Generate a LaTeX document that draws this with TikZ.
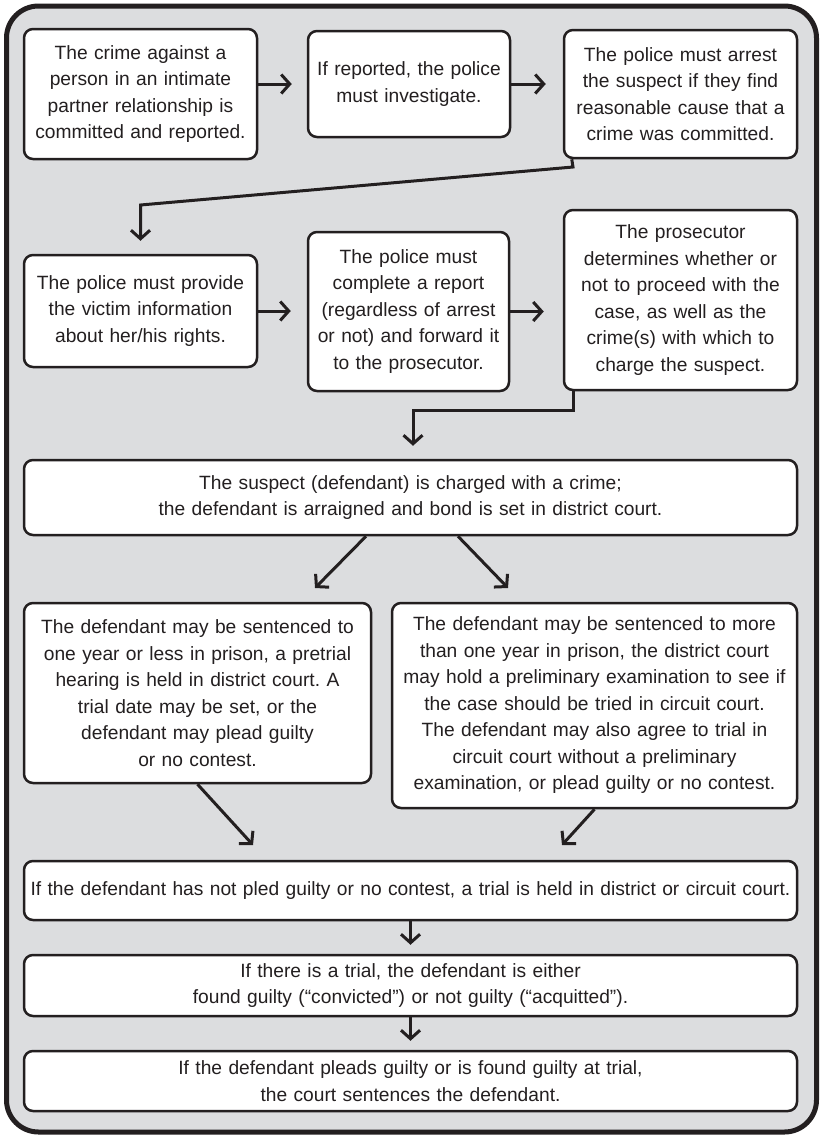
\documentclass[tikz,border=0pt]{standalone}
\usepackage{fontspec}
\setmainfont{Liberation Sans}
\frenchspacing
\usetikzlibrary{arrows.meta}
\definecolor{paneltone}{RGB}{220,221,223}
\definecolor{inktone}{RGB}{35,31,32}
\tikzstyle{stepbox} = [rectangle, rounded corners=9pt,
draw=inktone,
line width=2.5pt,
fill=white,
text=inktone,
align=center,
inner xsep=2pt, inner ysep=0pt,
font=\fontsize{19.2}{26.5}\selectfont]
\tikzstyle{coord} = [coordinate]
\tikzstyle{arrow} = [line width=3pt, draw=inktone,
-{Straight Barb[length=8.5pt, width=19pt]}]

\begin{document}
\begin{tikzpicture} [x=1pt, y=-1pt]
		\useasboundingbox (0,0) rectangle (824,1136);
		\draw [line width=5pt, draw=inktone, fill=paneltone, rounded corners=32pt] (6.5,6) rectangle (816.5,1132);
		% first row
		\node (crime) [stepbox, text width=229pt, minimum height=130pt] at (140.5,94) {The crime against a\\ person in an intimate\\ partner relationship is\\ committed and reported.};
		\node (investigate) [stepbox, text width=198pt, minimum height=106pt] at (409,84) {If reported, the police\\ must investigate.};
		\node (arrest) [stepbox, text width=229pt, minimum height=128pt] at (680.5,94) {The police must arrest\\ the suspect if they find\\ reasonable cause that a\\ crime was committed.};
		% second row
		\node (rights) [stepbox, text width=229pt, minimum height=112pt] at (140.5,311) {The police must provide\\ the victim information\\ about her/his rights.};
		\node (report) [stepbox, text width=197pt, minimum height=159pt] at (408.5,311.5) {The police must\\ complete a report\\ (regardless of arrest\\ or not) and forward it\\ to the prosecutor.};
		\node (prosecutor) [stepbox, text width=229pt, minimum height=180pt] at (680.5,300) {The prosecutor\\ determines whether or\\ not to proceed with the\\ case, as well as the\\ crime(s) with which to\\ charge the suspect.};
		% court stages
		\node (charged) [stepbox, text width=769pt, minimum height=75pt] at (410.5,497.5) {The suspect (defendant) is charged with a crime;\\ the defendant is arraigned and bond is set in district court.};
		\node (lesser) [stepbox, text width=343pt, minimum height=180pt] at (197.5,693) {The defendant may be sentenced to\\ one year or less in prison, a pretrial\\ hearing is held in district court. A\\ trial date may be set, or the\\ defendant may plead guilty\\ or no contest.};
		\node (greater) [stepbox, text width=401pt, minimum height=205pt] at (594.5,705.5) {The defendant may be sentenced to more\\ than one year in prison, the district court\\ may hold a preliminary examination to see if\\ the case should be tried in circuit court.\\ The defendant may also agree to trial in\\ circuit court without a preliminary\\ examination, or plead guilty or no contest.};
		\node (trial) [stepbox, text width=769pt, minimum height=59pt] at (410.5,890.5) {\mbox{If the defendant has not pled guilty or no contest, a trial is held in district or circuit court.}};
		\node (verdict) [stepbox, text width=769pt, minimum height=61pt] at (410.5,985.5) {If there is a trial, the defendant is either\\ found guilty (“convicted”) or not guilty (“acquitted”).};
		\node (sentence) [stepbox, text width=769pt, minimum height=60pt] at (410.5,1081) {If the defendant pleads guilty or is found guilty at trial,\\ the court sentences the defendant.};
		% bends and arrow tips
		\node (bend1) [coord] at (573,167) {};
		\node (bend2) [coord] at (140.5,205) {};
		\node (bend3) [coord] at (413,410) {};
		\node (tipL) [coord] at (315,588) {};
		\node (tipR) [coord] at (508,588) {};
		\node (tipA) [coord] at (253,845) {};
		\node (tipB) [coord] at (562,845) {};
		\draw [arrow, shorten >=15pt] (investigate.west -| crime.east) -- (investigate.west);
		\draw [arrow, shorten >=17pt] (investigate.east) -- (investigate.east -| arrest.west);
		\draw [arrow, shorten >=13pt] ([xshift=9pt]arrest.south west) -- (bend1) -- (bend2) -- (rights.north);
		\draw [arrow, shorten >=16pt] (rights.east) -- (rights.east -| report.west);
		\draw [arrow, shorten >=19pt] (report.east) -- (report.east -| prosecutor.west);
		\draw [arrow, shorten >=13pt] ([xshift=11pt]prosecutor.south west) |- (bend3) -- (bend3 |- charged.north);
		\draw [arrow] ([xshift=-44.5pt]charged.south) -- (tipL);
		\draw [arrow] ([xshift=47.5pt]charged.south) -- (tipR);
		\draw [arrow] (lesser.south) -- (tipA);
		\draw [arrow] (greater.south) -- (tipB);
		\draw [arrow, shorten >=9pt] (trial.south) -- (verdict.north);
		\draw [arrow, shorten >=9pt] (verdict.south) -- (sentence.north);
	\end{tikzpicture}
\end{document}
